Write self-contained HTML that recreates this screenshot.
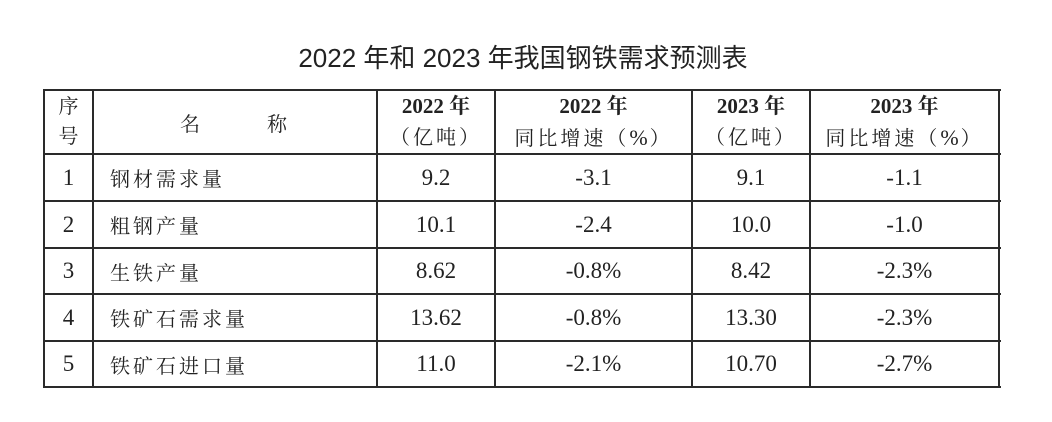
<!DOCTYPE html>
<html><head><meta charset="utf-8">
<style>
html,body{margin:0;padding:0;background:#fff;}
body{width:1052px;height:422px;position:relative;overflow:hidden;}
.title{position:absolute;left:0;top:42px;width:1046px;text-align:center;font-family:"Liberation Sans","Noto Sans CJK SC",sans-serif;font-size:26px;color:#222;line-height:32px;white-space:nowrap;}
.h{position:absolute;height:2px;background:#2a2a2a;}
.v{position:absolute;width:2px;background:#2a2a2a;}
.c{position:absolute;display:flex;flex-direction:column;align-items:center;justify-content:center;font-family:"Liberation Serif","Noto Serif CJK SC",serif;color:#222;white-space:nowrap;}
.num{font-size:23px;}
.cn{font-size:20px;letter-spacing:3px;}
.b{font-weight:bold;font-size:21px;}
.l{align-items:flex-start;padding-left:16px;box-sizing:border-box;}
.hd{line-height:32px;}
.pc{font-family:"Liberation Serif",serif;font-size:22px;letter-spacing:2px;}
</style></head><body>
<div class="title">2022 年和 2023 年我国钢铁需求预测表</div>

<!-- horizontal lines -->
<div class="h" style="left:44px;width:957px;top:89px;"></div>
<div class="h" style="left:44px;width:957px;top:153px;"></div>
<div class="h" style="left:44px;width:957px;top:200px;"></div>
<div class="h" style="left:44px;width:957px;top:247px;"></div>
<div class="h" style="left:44px;width:957px;top:293px;"></div>
<div class="h" style="left:44px;width:957px;top:340px;"></div>
<div class="h" style="left:44px;width:957px;top:386px;"></div>
<!-- vertical lines -->
<div class="v" style="top:89px;height:299px;left:43px;"></div>
<div class="v" style="top:89px;height:299px;left:92px;"></div>
<div class="v" style="top:89px;height:299px;left:376px;"></div>
<div class="v" style="top:89px;height:299px;left:494px;"></div>
<div class="v" style="top:89px;height:299px;left:691px;"></div>
<div class="v" style="top:89px;height:299px;left:809px;"></div>
<div class="v" style="top:89px;height:299px;left:998px;"></div>

<!-- header -->
<div class="c cn" style="left:45px;width:47px;top:91px;height:62px;line-height:30px;letter-spacing:0;"><div>序</div><div>号</div></div>
<div class="c cn" style="left:94px;width:282px;top:91px;height:62px;"><div><span style="margin-right:64px">名</span><span>称</span></div></div>
<div class="c hd" style="left:378px;width:116px;top:91px;height:62px;"><div class="b">2022 年</div><div class="cn">（亿吨）</div></div>
<div class="c hd" style="left:496px;width:195px;top:91px;height:62px;"><div class="b">2022 年</div><div class="cn">同比增速（<span class="pc">%</span>）</div></div>
<div class="c hd" style="left:693px;width:116px;top:91px;height:62px;"><div class="b">2023 年</div><div class="cn">（亿吨）</div></div>
<div class="c hd" style="left:811px;width:187px;top:91px;height:62px;"><div class="b">2023 年</div><div class="cn">同比增速（<span class="pc">%</span>）</div></div>

<!-- row 1 -->
<div class="c num" style="left:45px;width:47px;top:155px;height:45px;">1</div>
<div class="c cn l" style="left:94px;width:282px;top:155px;height:45px;">钢材需求量</div>
<div class="c num" style="left:378px;width:116px;top:155px;height:45px;">9.2</div>
<div class="c num" style="left:496px;width:195px;top:155px;height:45px;">-3.1</div>
<div class="c num" style="left:693px;width:116px;top:155px;height:45px;">9.1</div>
<div class="c num" style="left:811px;width:187px;top:155px;height:45px;">-1.1</div>
<!-- row 2 -->
<div class="c num" style="left:45px;width:47px;top:202px;height:45px;">2</div>
<div class="c cn l" style="left:94px;width:282px;top:202px;height:45px;">粗钢产量</div>
<div class="c num" style="left:378px;width:116px;top:202px;height:45px;">10.1</div>
<div class="c num" style="left:496px;width:195px;top:202px;height:45px;">-2.4</div>
<div class="c num" style="left:693px;width:116px;top:202px;height:45px;">10.0</div>
<div class="c num" style="left:811px;width:187px;top:202px;height:45px;">-1.0</div>
<!-- row 3 -->
<div class="c num" style="left:45px;width:47px;top:249px;height:44px;">3</div>
<div class="c cn l" style="left:94px;width:282px;top:249px;height:44px;">生铁产量</div>
<div class="c num" style="left:378px;width:116px;top:249px;height:44px;">8.62</div>
<div class="c num" style="left:496px;width:195px;top:249px;height:44px;">-0.8%</div>
<div class="c num" style="left:693px;width:116px;top:249px;height:44px;">8.42</div>
<div class="c num" style="left:811px;width:187px;top:249px;height:44px;">-2.3%</div>
<!-- row 4 -->
<div class="c num" style="left:45px;width:47px;top:295px;height:45px;">4</div>
<div class="c cn l" style="left:94px;width:282px;top:295px;height:45px;">铁矿石需求量</div>
<div class="c num" style="left:378px;width:116px;top:295px;height:45px;">13.62</div>
<div class="c num" style="left:496px;width:195px;top:295px;height:45px;">-0.8%</div>
<div class="c num" style="left:693px;width:116px;top:295px;height:45px;">13.30</div>
<div class="c num" style="left:811px;width:187px;top:295px;height:45px;">-2.3%</div>
<!-- row 5 -->
<div class="c num" style="left:45px;width:47px;top:342px;height:44px;">5</div>
<div class="c cn l" style="left:94px;width:282px;top:342px;height:44px;">铁矿石进口量</div>
<div class="c num" style="left:378px;width:116px;top:342px;height:44px;">11.0</div>
<div class="c num" style="left:496px;width:195px;top:342px;height:44px;">-2.1%</div>
<div class="c num" style="left:693px;width:116px;top:342px;height:44px;">10.70</div>
<div class="c num" style="left:811px;width:187px;top:342px;height:44px;">-2.7%</div>
</body></html>
